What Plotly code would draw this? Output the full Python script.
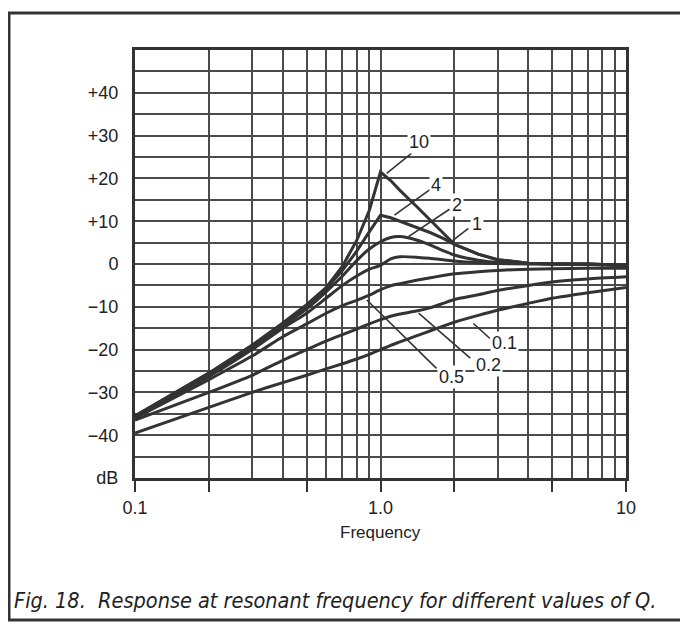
import plotly.graph_objects as go
import math

# ---------------- data ----------------
freq = [0.1, 0.2, 0.3, 0.4, 0.5, 0.6, 0.7, 0.8, 0.9, 1.0, 1.1, 1.2, 1.4, 1.6, 1.8,
        2.0, 2.5, 3.0, 4.0, 5.0, 7.0, 10.0]

q10  = [-35.5, -25.5, -19.0, -13.8, -9.5, -5.5, -0.5, 5.5, 12.5, 21.5, 19.5, 17.2, 13.5, 10.1, 7.2,
        4.6, 2.3, 1.0, 0.2, 0.0, 0.0, -0.3]
q4   = [-35.5, -25.5, -19.0, -14.0, -9.8, -5.8, -1.5, 3.0, 7.5, 11.4, 10.8, 10.0, 8.7, 7.3, 6.0,
        4.6, 2.3, 1.0, 0.2, 0.0, 0.0, -0.3]
q2   = [-35.8, -26.0, -19.5, -14.5, -10.5, -6.5, -2.8, 0.8, 3.5, 5.2, 6.2, 6.4, 5.6, 4.4, 3.1,
        2.1, 0.9, 0.4, 0.1, 0.0, 0.0, -0.3]
q1   = [-36.0, -26.3, -20.0, -15.0, -11.5, -8.0, -5.0, -2.8, -1.2, -0.3, 1.2, 1.7, 1.6, 1.3, 1.0,
        0.7, 0.3, 0.1, 0.0, 0.0, -0.1, -0.4]
q05  = [-36.0, -27.0, -21.5, -17.0, -14.0, -11.5, -9.7, -8.5, -7.3, -6.0, -5.1, -4.6, -3.8, -3.2, -2.7,
        -2.3, -1.8, -1.5, -1.2, -1.1, -1.0, -1.0]
q02  = [-36.5, -30.0, -26.0, -22.5, -20.0, -18.0, -16.5, -15.2, -14.0, -13.0, -12.2, -11.7, -11.0, -10.2, -9.2,
        -8.3, -7.2, -6.2, -5.0, -4.2, -3.5, -3.0]
q01  = [-39.5, -33.5, -30.0, -27.7, -26.0, -24.5, -23.3, -22.2, -21.1, -20.0, -19.0, -18.2, -16.8, -15.6, -14.5,
        -13.6, -12.0, -10.8, -9.2, -8.0, -6.7, -5.5]

curves = [q10, q4, q2, q1, q05, q02, q01]
curve_shape = ["linear", "linear", "spline", "spline", "spline", "spline", "spline"]

# curve labels: text, label position (freq, dB), leader from (freq, dB) to (freq, dB)
label_text = ["10", "4", "2", "1", "0.5", "0.2", "0.1"]
label_pos = [(1.43, 28.6), (1.68, 18.5), (2.04, 13.8), (2.47, 9.3),
             (1.95, -26.3), (2.75, -23.6), (3.21, -18.5)]
leader_from = [(1.06, 21.2), (1.14, 11.4), (1.30, 6.4), (1.92, 5.0),
               (0.88, -8.4), (1.43, -11.5), (2.39, -13.9)]
leader_to = [(1.34, 25.9), (1.59, 17.4), (1.91, 12.8), (2.28, 8.3),
             (1.69, -24.4), (2.32, -22.0), (2.79, -17.4)]

y_tickvals = [-50, -40, -30, -20, -10, 0, 10, 20, 30, 40]
y_ticktext = ["dB", "\u221240", "\u221230", "\u221220", "\u221210", "0", "+10", "+20", "+30", "+40"]
y_minor = [-45, -35, -25, -15, -5, 5, 15, 25, 35, 45]

x_major = [0.1, 0.2, 0.5, 1, 2, 5, 10]
x_major_text = ["0.1", "", "", "1.0", "", "", "10"]
x_minor = [0.3, 0.4, 0.6, 0.7, 0.8, 0.9, 3, 4, 6, 7, 8, 9]

caption = "Fig. 18.  Response at resonant frequency for different values of Q."

# ---------------- layout geometry ----------------
# the page body keeps an 8px margin, so the figure is drawn 8px smaller
OFF = 8
W, H = 688 - OFF, 628 - OFF
L, R, T, B = 135 - OFF, 626 - OFF, 50 - OFF, 478 - OFF
INK = "#333333"
GRID = "#4a4a4a"
FONT = "Liberation Sans, Arial, sans-serif"


def pxx(px):
    return (px - OFF - L) / (R - L)


def pxy(py):
    return (B - (py - OFF)) / (B - T)


fig = go.Figure()

for c, shp in zip(curves, curve_shape):
    line = dict(color=INK, width=3, shape=shp)
    if shp == "spline":
        line["smoothing"] = 0.6
    fig.add_trace(go.Scatter(x=freq, y=c, mode="lines", line=line,
                             hoverinfo="skip", showlegend=False))

for (f0, d0), (f1, d1) in zip(leader_from, leader_to):
    fig.add_trace(go.Scatter(x=[f0, f1], y=[d0, d1], mode="lines",
                             line=dict(color=INK, width=1.6), hoverinfo="skip",
                             showlegend=False))

annotations = []
for t, (f, d) in zip(label_text, label_pos):
    annotations.append(dict(x=math.log10(f), y=d, xref="x", yref="y", text=t,
                            showarrow=False, bgcolor="white", borderpad=1,
                            xanchor="center", yanchor="middle",
                            font=dict(family=FONT, size=18, color="#222222")))

annotations.append(dict(x=pxx(380), y=pxy(532), xref="paper", yref="paper",
                        xanchor="center", yanchor="middle",
                        text="Frequency", showarrow=False,
                        font=dict(family=FONT, size=17, color="#222222")))

annotations.append(dict(x=pxx(12), y=pxy(600), xref="paper", yref="paper",
                        xanchor="left", yanchor="middle", text=caption, showarrow=False,
                        font=dict(family="Liberation Sans Narrow, DejaVu Sans Condensed, sans-serif",
                                  size=21.5, color="#222222", style="italic")))

shapes = [dict(type="rect", xref="paper", yref="paper",
               x0=pxx(9), x1=pxx(682), y0=pxy(620), y1=pxy(13),
               line=dict(color=INK, width=3), layer="below")]

fig.update_layout(
    width=W, height=H,
    margin=dict(l=L, r=W - R, t=T, b=H - B, autoexpand=False),
    paper_bgcolor="white", plot_bgcolor="white",
    annotations=annotations, shapes=shapes,
    showlegend=False,
)

fig.update_xaxes(type="log", range=[-1, 1],
                 tickmode="array", tickvals=x_major, ticktext=x_major_text,
                 ticks="outside", ticklen=11, tickwidth=2, tickcolor=INK,
                 showgrid=True, gridcolor=GRID, gridwidth=2,
                 showline=True, linecolor=INK, linewidth=3, mirror=True,
                 zeroline=False, ticklabelstandoff=0,
                 tickfont=dict(family=FONT, size=18, color="#222222"),
                 minor=dict(tickmode="array", tickvals=x_minor, showgrid=True,
                            gridcolor=GRID, gridwidth=2, ticks=""))

fig.update_yaxes(range=[-50, 50],
                 tickmode="array", tickvals=y_tickvals, ticktext=y_ticktext,
                 ticks="", showgrid=True, gridcolor=GRID, gridwidth=2,
                 showline=True, linecolor=INK, linewidth=3, mirror=True,
                 zeroline=False, ticklabelstandoff=10,
                 tickfont=dict(family=FONT, size=18, color="#222222"),
                 minor=dict(tickmode="array", tickvals=y_minor, showgrid=True,
                            gridcolor=GRID, gridwidth=2, ticks=""))

fig.write_html("out.html")
